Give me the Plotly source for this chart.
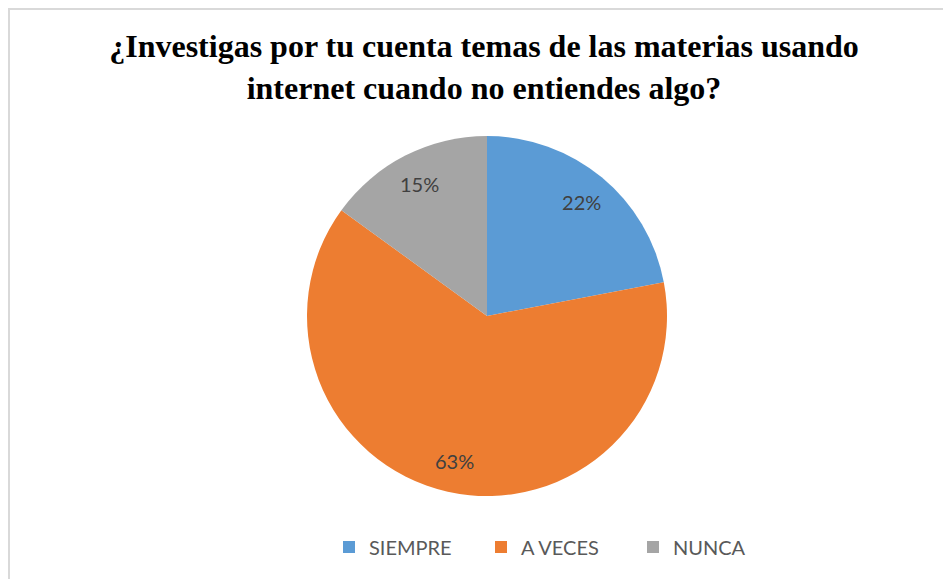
import plotly.graph_objects as go

# Datos de la encuesta
categorias = ["SIEMPRE", "A VECES", "NUNCA"]
porcentajes = [22, 63, 15]
colores = ["#5B9BD5", "#ED7D31", "#A5A5A5"]

titulo = "¿Investigas por tu cuenta temas de las materias usando<br>internet cuando no entiendes algo?"

W, H = 951, 579
# la página deja 8 px de margen, así que se resta a las posiciones
cx, cy, r = 479, 308, 180
dom_x = [(cx - r) / W, (cx + r) / W]
dom_y = [1 - (cy + r) / H, 1 - (cy - r) / H]

fig = go.Figure()

# pastel principal
fig.add_trace(go.Pie(
    labels=categorias, values=porcentajes, sort=False, direction="clockwise",
    rotation=0, marker=dict(colors=colores, line=dict(width=0)),
    textinfo="none", domain=dict(x=dom_x, y=dom_y), hoverinfo="label+percent",
))

# capa de etiquetas (anillo transparente para colocar los % cerca del borde)
fig.add_trace(go.Pie(
    labels=categorias, values=porcentajes, sort=False, direction="clockwise",
    rotation=0, hole=0.65, showlegend=False, hoverinfo="skip",
    marker=dict(colors=["rgba(0,0,0,0)"] * 3, line=dict(width=0)),
    textinfo="percent", texttemplate="%{percent:.0%}",
    textposition="inside", insidetextorientation="horizontal",
    textfont=dict(family="Lato", size=20, color="#404040"),
    domain=dict(x=dom_x, y=dom_y),
))

fig.update_layout(
    width=W, height=H,
    margin=dict(l=0, r=0, t=0, b=0),
    paper_bgcolor="white", plot_bgcolor="white",
    font=dict(family="Liberation Serif"),
    title=dict(text=titulo, x=476 / W, xanchor="center", y=1 - 49 / H, yanchor="top",
               font=dict(family="Liberation Serif", size=32, color="black", weight=700)),
    legend=dict(orientation="h", x=321 / W, xanchor="left", y=1 - 539 / H, yanchor="middle",
                entrywidth=107, traceorder="normal",
                font=dict(family="Lato", size=20, color="#595959")),
    shapes=[dict(type="rect", xref="paper", yref="paper",
                 x0=1 / W, x1=1.05, y0=-0.05, y1=1 - 1 / H,
                 line=dict(color="#D9D9D9", width=2), fillcolor="rgba(0,0,0,0)", layer="below")],
)

fig.write_html("out.html")
